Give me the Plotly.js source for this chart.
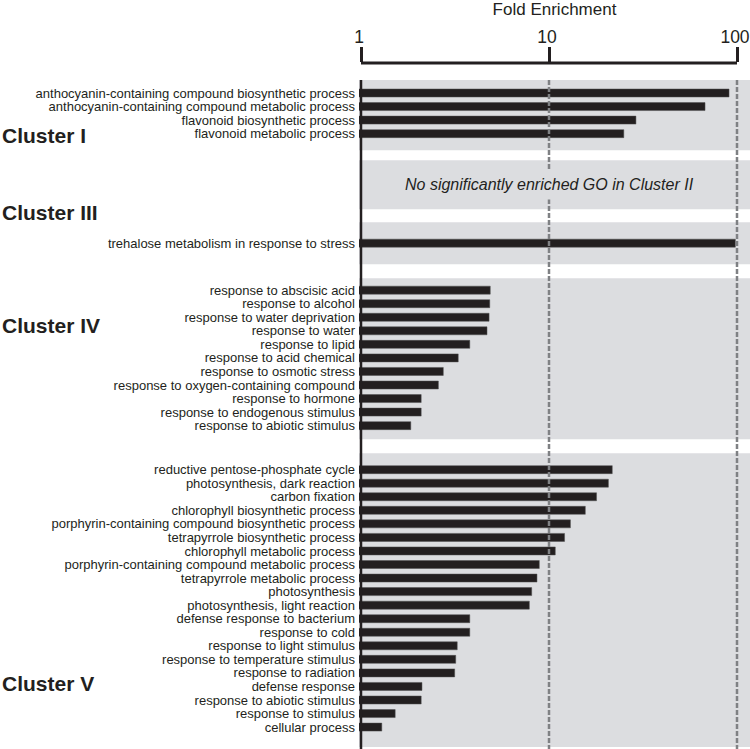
<!DOCTYPE html>
<html><head><meta charset="utf-8">
<script src="https://cdn.plot.ly/plotly-3.0.1.min.js"></script>
<style>html,body{margin:0;padding:0;background:#fff}</style>
</head><body><div id="chart" style="width:750px;height:749px"></div>
<script>
// ---- data ----
const termsI = ['anthocyanin-containing compound biosynthetic process','anthocyanin-containing compound metabolic process','flavonoid biosynthetic process','flavonoid metabolic process'];
const valuesI = [90.7, 67.6, 29.0, 25.0];
const noteII = 'No significantly enriched GO in Cluster II';
const termsIII = ['trehalose metabolism in response to stress'];
const valuesIII = [98];
const termsIV = ['response to abscisic acid','response to alcohol','response to water deprivation','response to water','response to lipid','response to acid chemical','response to osmotic stress','response to oxygen-containing compound','response to hormone','response to endogenous stimulus','response to abiotic stimulus'];
const valuesIV = [4.87, 4.84, 4.80, 4.68, 3.79, 3.29, 2.74, 2.58, 2.09, 2.09, 1.84];
const termsV = ['reductive pentose-phosphate cycle','photosynthesis, dark reaction','carbon fixation','chlorophyll biosynthetic process','porphyrin-containing compound biosynthetic process','tetrapyrrole biosynthetic process','chlorophyll metabolic process','porphyrin-containing compound metabolic process','tetrapyrrole metabolic process','photosynthesis','photosynthesis, light reaction','defense response to bacterium','response to cold','response to light stimulus','response to temperature stimulus','response to radiation','defense response','response to abiotic stimulus','response to stimulus','cellular process'];
const valuesV = [21.7, 20.7, 17.9, 15.6, 13.0, 12.1, 10.8, 8.88, 8.63, 8.09, 7.86, 3.79, 3.79, 3.25, 3.19, 3.15, 2.11, 2.09, 1.52, 1.29];
const clusterLabels = ['Cluster I','Cluster III','Cluster IV','Cluster V'];
const axisTicks = [1, 10, 100];
const axisTitle = 'Fold Enrichment';

// ---- geometry (layout only) ----
const pitch = 13.55;
const blocks = [
  {terms: termsI, values: valuesI, padTop: 13, padBottom: 16.5, gapAfter: 10},
  {terms: [], values: [], height: 49, note: noteII, gapAfter: 13},
  {terms: termsIII, values: valuesIII, padTop: 21, padBottom: 21, gapAfter: 14},
  {terms: termsIV, values: valuesIV, padTop: 12, padBottom: 13.5, gapAfter: 14},
  {terms: termsV, values: valuesV, padTop: 16.5, padBottom: 20, gapAfter: 0}
];
const labelBlock = [0, 2, 3, 4];
const labelOffset = [55, -10, 47, 230];

const W = 750, H = 749, mL = 359, mT = 63;
const axisStartPx = 361, decadePx = 188, bandTopPx = 80;
const plotW = W - mL, plotH = H - mT;
const xLo = -(axisStartPx - mL) / decadePx, xHi = (W - axisStartPx) / decadePx;
const yTop = -(bandTopPx - mT), yBottom = H - bandTopPx;

let cursor = 0;
const yPos = [], xVals = [], yText = [], shapes = [], annotations = [];
const bandTops = [];
blocks.forEach(b => {
  const top = cursor;
  bandTops.push(top);
  let bottom;
  if (b.terms.length) {
    b.terms.forEach((t, i) => {
      yPos.push(top + b.padTop + i * pitch);
      xVals.push(b.values[i]);
      yText.push(t);
    });
    bottom = top + b.padTop + (b.terms.length - 1) * pitch + b.padBottom;
  } else {
    bottom = top + b.height;
    annotations.push({
      xref: 'x', yref: 'y', x: Math.log10(axisTicks[1]), y: (top + bottom) / 2,
      text: '<i>' + b.note + '</i>', showarrow: false,
      font: {size: 16, color: '#231f20'},
      bgcolor: '#dcdde0', borderpad: 6
    });
  }
  shapes.push({type: 'rect', xref: 'paper', x0: 0, x1: 1, yref: 'y', y0: top, y1: bottom,
    fillcolor: '#dcdde0', line: {width: 0}, layer: 'below'});
  cursor = bottom + b.gapAfter;
});

// dashed reference lines at 10 and 100
axisTicks.slice(1).forEach(v => shapes.push({type: 'line', xref: 'x', x0: v, x1: v, yref: 'y', y0: 0, y1: yBottom,
  line: {color: '#7f8184', width: 2.5, dash: '5px,2px'}, layer: 'above'}));
// solid baseline at 1
shapes.push({type: 'line', xref: 'x', x0: axisTicks[0], x1: axisTicks[0], yref: 'y', y0: 0, y1: yBottom,
  line: {color: '#231f20', width: 2.5}, layer: 'above'});
// top axis line from 1 to 100
shapes.push({type: 'line', xref: 'x', x0: axisTicks[0], x1: axisTicks[axisTicks.length - 1], yref: 'paper', y0: 1, y1: 1,
  line: {color: '#231f20', width: 3}, layer: 'above'});

clusterLabels.forEach((c, i) => annotations.push({
  xref: 'paper', x: -mL / plotW, xanchor: 'left', yref: 'y', y: bandTops[labelBlock[i]] + labelOffset[i], yanchor: 'middle',
  text: '<b>' + c + '</b>', showarrow: false, font: {size: 21, color: '#231f20'}
}));

const traces = [
  {type: 'bar', orientation: 'h', x: xVals, y: yPos, width: 8,
   marker: {color: '#231f20', line: {color: '#505050', width: 0.5}}, hoverinfo: 'skip', showlegend: false}
];

const layout = {
  width: W, height: H,
  margin: {l: mL, r: 0, t: mT, b: 0, pad: 0},
  paper_bgcolor: '#fff', plot_bgcolor: '#fff',
  font: {family: 'Liberation Sans, Arial, Helvetica, sans-serif', color: '#231f20'},
  xaxis: {type: 'log', range: [xLo, xHi], side: 'top', showgrid: false, zeroline: false, showline: false,
    ticks: 'outside', ticklen: 15, tickwidth: 3, tickcolor: '#231f20',
    tickvals: axisTicks, ticktext: axisTicks.map(String), tickfont: {size: 17.5, color: '#231f20'},
    ticklabeloverflow: 'allow', ticklabelstandoff: -3, ticklabelshift: -2, fixedrange: true,
    title: {text: axisTitle, font: {size: 17, color: '#231f20'}, standoff: 14}},
  yaxis: {range: [yBottom, yTop], tickvals: yPos, ticktext: yText,
    ticks: '', showgrid: false, zeroline: false, showline: false,
    tickfont: {size: 13, color: '#231f20'}, ticklabelstandoff: 3, fixedrange: true},
  shapes: shapes, annotations: annotations, showlegend: false
};

Plotly.newPlot('chart', traces, layout, {displayModeBar: false, staticPlot: true});
</script></body></html>
